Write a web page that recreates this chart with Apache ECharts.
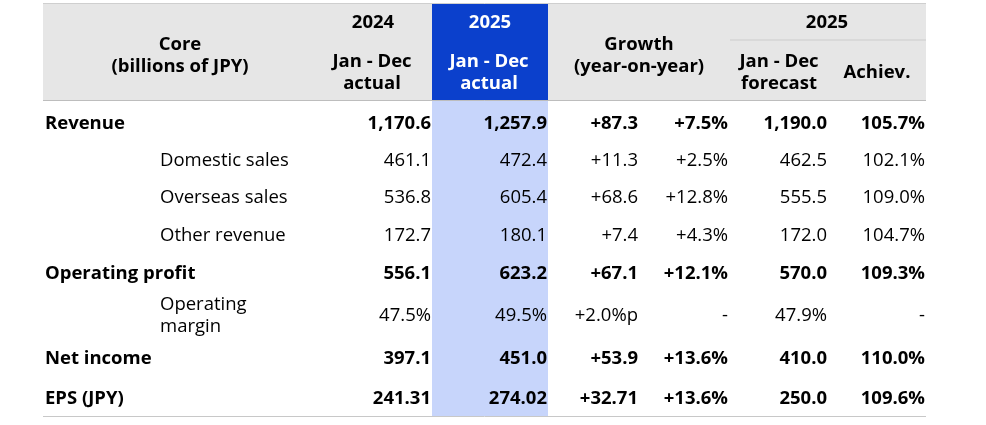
<!DOCTYPE html>
<html lang="en">
<head>
    <meta charset="UTF-8">
    <script src="https://cdn.jsdelivr.net/npm/echarts@6/dist/echarts.min.js"></script>
    <style>
        html, body { margin: 0; padding: 0; background: #fff; }
        #main { width: 986px; height: 425px; }
    </style>
</head>
<body>
    <div id="main"></div>
    <script>
        // table data
        var rowLabels = ['Revenue', 'Domestic sales', 'Overseas sales', 'Other revenue',
            'Operating profit', 'Operating\nmargin', 'Net income', 'EPS (JPY)'];
        var rowBold = [true, false, false, false, true, false, true, true];
        var rowIndent = [false, true, true, true, false, true, false, false];

        var actual2024 = ['1,170.6', '461.1', '536.8', '172.7', '556.1', '47.5%', '397.1', '241.31'];
        var actual2025 = ['1,257.9', '472.4', '605.4', '180.1', '623.2', '49.5%', '451.0', '274.02'];
        var growthAbs = ['+87.3', '+11.3', '+68.6', '+7.4', '+67.1', '+2.0%p', '+53.9', '+32.71'];
        var growthPct = ['+7.5%', '+2.5%', '+12.8%', '+4.3%', '+12.1%', '-', '+13.6%', '+13.6%'];
        var forecast2025 = ['1,190.0', '462.5', '555.5', '172.0', '570.0', '47.9%', '410.0', '250.0'];
        var achievement = ['105.7%', '102.1%', '109.0%', '104.7%', '109.3%', '-', '110.0%', '109.6%'];

        var headerTexts = ['Core\n(billions of JPY)', '2024', 'Jan - Dec\nactual', '2025', 'Jan - Dec\nactual',
            'Growth\n(year-on-year)', '2025', 'Jan - Dec\nforecast', 'Achiev.'];

        // layout (in chart pixels)
        var tableLeft = 43, tableRight = 926;
        var headTop = 4, headBottom = 100, tableBottom = 416;
        var hiLeft = 432, hiRight = 548;
        var subLineLeft = 730, subLineY = 40;
        var labelX = 45, indentX = 160;
        var colRight = [431, 547, 638, 728, 827, 925];
        var rowY = [124, 161, 198, 236, 274, 316, 359, 399];
        var headerPos = [[180, 56], [373, 23], [372, 73], [490, 23], [489, 73],
            [639, 56], [827, 23], [779, 73], [877, 73]];

        var FONT = '"Open Sans", "Noto Sans", sans-serif';
        var FS = 18.5;

        var columns = [actual2024, actual2025, growthAbs, growthPct, forecast2025, achievement];

        // cells
        var cells = [];
        rowLabels.forEach(function (label, i) {
            cells.push({ value: [rowIndent[i] ? indentX : labelX, rowY[i]], text: label, bold: rowBold[i], align: 'left', color: '#000' });
            columns.forEach(function (col, c) {
                cells.push({ value: [colRight[c], rowY[i]], text: col[i], bold: rowBold[i], align: 'right', color: '#000' });
            });
        });
        headerTexts.forEach(function (t, k) {
            cells.push({
                value: headerPos[k], text: t, bold: true, align: 'center',
                color: (k === 3 || k === 4) ? '#fff' : '#000'
            });
        });

        // background blocks: [x0, y0, x1, y1, color]
        var blocks = [
            [tableLeft, headTop, tableRight, headBottom, '#e6e6e6'],
            [hiLeft, headTop, hiRight, headBottom, '#0b40cc'],
            [hiLeft, headBottom, hiRight, tableBottom, '#c7d5fb']
        ];
        var lines = [
            [tableLeft, headTop - 0.5, tableRight, headTop - 0.5, '#cfcfcf'],
            [tableLeft, headBottom + 0.5, tableRight, headBottom + 0.5, '#bdbdbd'],
            [subLineLeft, subLineY, tableRight, subLineY, '#cccccc'],
            [tableLeft, tableBottom + 0.5, tableRight, tableBottom + 0.5, '#c8c8c8']
        ];

        var chart = echarts.init(document.getElementById('main'));
        chart.setOption({
            animation: false,
            grid: { left: 0, right: 0, top: 0, bottom: 0 },
            xAxis: { type: 'value', min: 0, max: 986, show: false },
            yAxis: { type: 'value', min: 0, max: 425, inverse: true, show: false },
            series: [{
                type: 'custom',
                silent: true,
                z: 1,
                data: blocks,
                renderItem: function (params, api) {
                    var b = blocks[params.dataIndex];
                    var p0 = api.coord([b[0], b[1]]);
                    var p1 = api.coord([b[2], b[3]]);
                    return {
                        type: 'rect',
                        shape: { x: p0[0], y: p0[1], width: p1[0] - p0[0], height: p1[1] - p0[1] },
                        style: { fill: b[4] }
                    };
                }
            }, {
                type: 'custom',
                silent: true,
                z: 2,
                data: lines,
                renderItem: function (params, api) {
                    var l = lines[params.dataIndex];
                    var p0 = api.coord([l[0], l[1]]);
                    var p1 = api.coord([l[2], l[3]]);
                    return {
                        type: 'line',
                        shape: { x1: p0[0], y1: p0[1], x2: p1[0], y2: p1[1] },
                        style: { stroke: l[4], lineWidth: 1 }
                    };
                }
            }, {
                type: 'custom',
                silent: true,
                z: 3,
                data: cells,
                renderItem: function (params, api) {
                    var c = cells[params.dataIndex];
                    var p = api.coord(c.value);
                    return {
                        type: 'text',
                        x: p[0],
                        y: p[1],
                        style: {
                            text: c.text,
                            fill: c.color,
                            font: (c.bold ? 'bold ' : '') + FS + 'px ' + FONT,
                            align: c.align,
                            verticalAlign: 'middle',
                            lineHeight: 22
                        }
                    };
                }
            }]
        });
    </script>
</body>
</html>
